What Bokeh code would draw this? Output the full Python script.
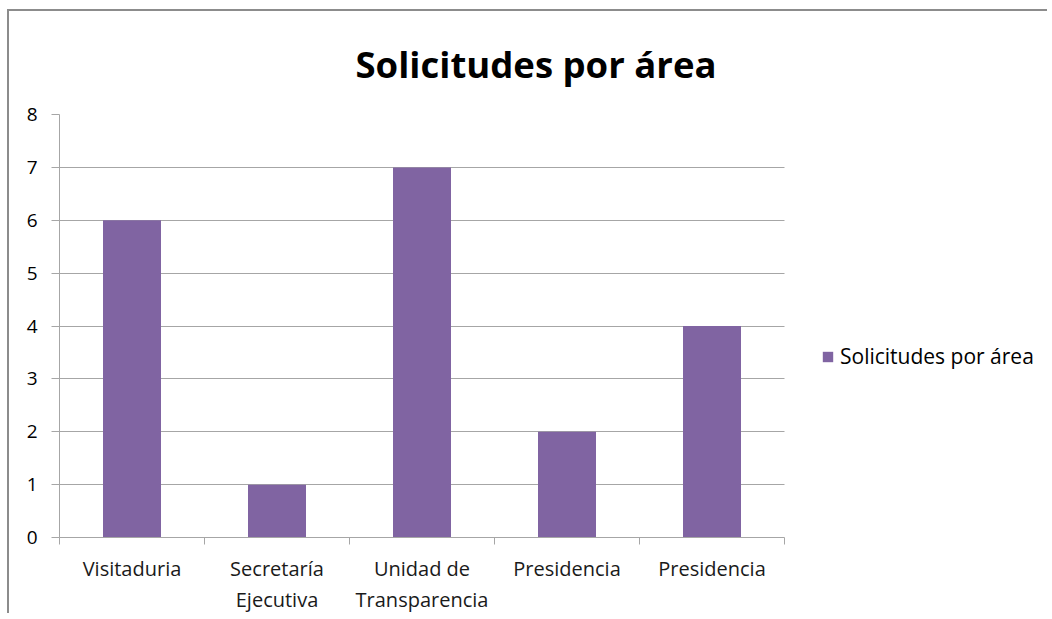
from bokeh.plotting import figure
from bokeh.models import ColumnDataSource, FixedTicker, Legend, LegendItem, Title, Range1d
from bokeh.embed import file_html
from bokeh.resources import INLINE

categories = ["Visitaduria", "Secretaría\nEjecutiva", "Unidad de\nTransparencia", "Presidencia", "Presidencia"]
values = [6, 1, 7, 2, 4]
series_name = "Solicitudes por área"
title_text = "Solicitudes por área"
y_ticks = [0, 1, 2, 3, 4, 5, 6, 7, 8]

FONT = "Open Sans"
BAR = "#8064A2"
GRID = "#a6a6a6"

n = len(categories)
xs = [i + 0.5 for i in range(n)]
src = ColumnDataSource(dict(x=xs, top=values, cat=categories))

# frame spans the plot area plus the legend area; axis and grid are bounded to the categories
plot_px, frame_px = 725, 981
x_end = n * frame_px / plot_px

p = figure(width=1040, height=604, output_backend="svg", toolbar_location=None,
           x_range=Range1d(0, x_end), y_range=Range1d(0, 8),
           min_border_left=50, min_border_right=9, min_border_top=103, min_border_bottom=66)
p.styles = {"border-left": "2px solid #8c8c8c", "border-top": "2px solid #8c8c8c",
            "margin-left": "7px", "margin-top": "9px"}

r = p.vbar(x="x", top="top", width=0.4, bottom=0, source=src, fill_color=BAR, line_color=None)

t = Title(text=title_text, align="left", offset=296, text_font=FONT, text_font_size="36.5px",
          text_font_style="bold", text_color="black", standoff=51)
p.add_layout(t, "above")

p.outline_line_color = None
p.xgrid.grid_line_color = None
p.ygrid.grid_line_color = GRID
p.ygrid.grid_line_width = 1
p.ygrid.cross_bounds = (0, n)
p.yaxis.ticker = FixedTicker(ticks=y_ticks)
p.yaxis.axis_line_color = GRID
p.yaxis.major_tick_line_color = GRID
p.yaxis.major_tick_out = 8
p.yaxis.major_tick_in = 0
p.yaxis.minor_tick_line_color = None
p.yaxis.major_label_text_font = FONT
p.yaxis.major_label_text_font_size = "19px"
p.yaxis.major_label_text_color = "black"
p.yaxis.major_label_standoff = 14

p.xaxis.bounds = (0, n)
p.xaxis.ticker = FixedTicker(ticks=xs, minor_ticks=list(range(n + 1)))
p.xaxis.major_label_overrides = {x: c for x, c in zip(xs, categories)}
p.xaxis.axis_line_color = GRID
p.xaxis.major_tick_line_color = None
p.xaxis.major_tick_out = 6
p.xaxis.major_tick_in = 0
p.xaxis.minor_tick_line_color = GRID
p.xaxis.minor_tick_out = 7
p.xaxis.minor_tick_in = 0
p.xaxis.major_label_text_font = FONT
p.xaxis.major_label_text_font_size = "20px"
p.xaxis.major_label_text_color = "#1a1a1a"
p.xaxis.major_label_standoff = 10
p.xaxis.major_label_text_line_height = 1.15

legend = Legend(items=[LegendItem(label=series_name, renderers=[r])],
                location=(762, 167), label_text_font=FONT, label_text_font_size="21px",
                label_text_color="black", border_line_color=None, background_fill_alpha=0,
                glyph_width=13, glyph_height=13, label_standoff=6, padding=4, margin=0)
p.add_layout(legend, "center")

open("out.html", "w").write(file_html(p, INLINE))
